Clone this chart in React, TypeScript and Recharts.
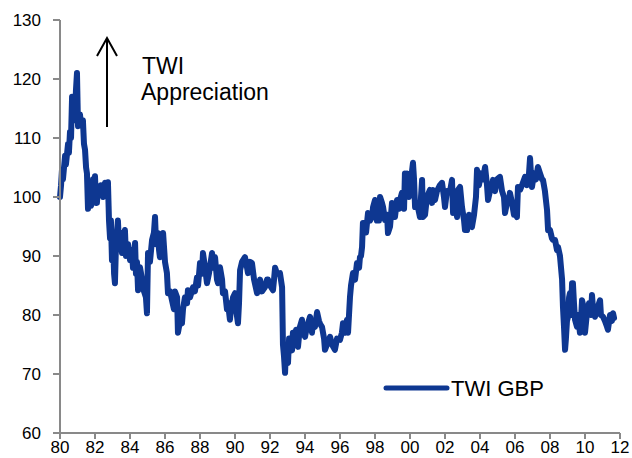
import { LineChart, Line, XAxis, YAxis, Legend } from 'recharts';

// [decimal year, index level]
const twi1980s: [number, number][] = [
    [1980.0, 100], [1980.06, 102], [1980.11, 104.5], [1980.17, 103], [1980.29, 107], [1980.34, 105.5],
    [1980.46, 109], [1980.51, 107.5], [1980.57, 111], [1980.63, 110], [1980.69, 117], [1980.74, 114],
    [1980.8, 116], [1980.86, 113], [1980.91, 118], [1980.97, 121], [1981.03, 112], [1981.14, 114],
    [1981.2, 112.5], [1981.31, 113], [1981.37, 109], [1981.43, 108], [1981.49, 105], [1981.54, 104],
    [1981.6, 98], [1981.66, 100], [1981.71, 102], [1981.77, 98.5], [1981.83, 99.5], [1981.89, 103],
    [1981.94, 101], [1982.0, 103.5], [1982.06, 99], [1982.11, 99], [1982.17, 101.5], [1982.29, 100.5],
    [1982.34, 102], [1982.46, 100], [1982.57, 102.4], [1982.69, 101], [1982.74, 102.5], [1982.8, 96],
    [1982.86, 93], [1982.91, 96], [1982.97, 89.3], [1983.03, 93], [1983.09, 87], [1983.14, 85.4],
    [1983.2, 92], [1983.31, 96], [1983.37, 92], [1983.43, 94], [1983.54, 90.5], [1983.6, 93],
    [1983.71, 94.4], [1983.77, 90], [1983.89, 92], [1984.0, 89.3], [1984.11, 91], [1984.17, 88],
    [1984.29, 92.2], [1984.34, 87], [1984.4, 89], [1984.46, 84.2], [1984.57, 88.1], [1984.69, 86],
    [1984.8, 84], [1984.91, 83], [1984.97, 80.3], [1985.03, 90.5], [1985.14, 89], [1985.26, 92.7],
    [1985.37, 94], [1985.43, 96.6], [1985.49, 92], [1985.6, 93.9], [1985.66, 91], [1985.71, 89.8],
    [1985.83, 91], [1985.89, 93.9], [1986.0, 89], [1986.11, 87.1], [1986.17, 83.7], [1986.29, 84],
    [1986.4, 82.5], [1986.51, 81], [1986.57, 84], [1986.69, 83], [1986.74, 77], [1986.86, 79],
    [1986.97, 78.6], [1987.03, 81], [1987.14, 83], [1987.26, 82], [1987.31, 84.2], [1987.43, 83],
    [1987.6, 84.7], [1987.71, 84], [1987.83, 86.4], [1987.89, 85], [1988.0, 88.8], [1988.11, 87],
    [1988.17, 90.5], [1988.29, 88], [1988.4, 85.4], [1988.51, 87], [1988.69, 90.5], [1988.74, 88],
    [1988.86, 89.8], [1988.97, 86], [1989.03, 85.4], [1989.14, 88.1], [1989.26, 86], [1989.31, 83.7],
    [1989.43, 84], [1989.54, 81], [1989.6, 82], [1989.71, 79.2], [1989.77, 81], [1989.89, 83],
];

const twi1990s: [number, number][] = [
    [1990.0, 83.7], [1990.06, 81], [1990.17, 78.6], [1990.23, 82], [1990.29, 87.6], [1990.4, 89],
    [1990.57, 89.8], [1990.69, 88], [1990.74, 87.1], [1990.86, 89], [1990.97, 88.8], [1991.09, 86],
    [1991.26, 83.7], [1991.37, 85], [1991.43, 86], [1991.54, 84], [1991.71, 84.7], [1991.83, 86],
    [1991.89, 86], [1992.0, 85], [1992.17, 84.2], [1992.23, 86], [1992.29, 88], [1992.4, 87],
    [1992.57, 87.1], [1992.69, 84.7], [1992.74, 75], [1992.8, 73], [1992.86, 70.2], [1992.91, 74],
    [1992.97, 72], [1993.03, 71.9], [1993.09, 76], [1993.14, 75.8], [1993.26, 74], [1993.31, 77],
    [1993.43, 76.3], [1993.49, 77.5], [1993.6, 74.6], [1993.71, 78], [1993.83, 79.2], [1993.89, 77],
    [1994.0, 76.3], [1994.11, 78], [1994.29, 79.7], [1994.4, 77], [1994.46, 79], [1994.57, 78],
    [1994.69, 80.5], [1994.8, 79], [1994.86, 78.5], [1994.97, 78], [1995.09, 76], [1995.14, 74.1],
    [1995.26, 75], [1995.43, 76.3], [1995.54, 75], [1995.71, 74.1], [1995.83, 76], [1996.0, 75.8],
    [1996.11, 77], [1996.17, 78.6], [1996.29, 77], [1996.4, 79.2], [1996.46, 77], [1996.57, 83],
    [1996.63, 85], [1996.74, 87.1], [1996.86, 86], [1996.97, 88.8], [1997.09, 88], [1997.14, 89.8],
    [1997.2, 90], [1997.26, 91.5], [1997.31, 95.6], [1997.43, 95.6], [1997.49, 94], [1997.6, 97.3],
    [1997.71, 96], [1997.83, 96.6], [1997.89, 98.3], [1998.0, 99.5], [1998.11, 96], [1998.17, 97.8],
    [1998.23, 96], [1998.29, 100], [1998.4, 99], [1998.46, 98.3], [1998.57, 96.1], [1998.69, 97],
    [1998.74, 93.9], [1998.86, 95], [1998.97, 99], [1999.09, 98], [1999.14, 96.6], [1999.26, 99.5],
    [1999.37, 98], [1999.43, 99.5], [1999.54, 100.7], [1999.6, 100.7], [1999.66, 98], [1999.71, 104],
    [1999.77, 102], [1999.83, 104], [1999.94, 100],
];

const twi2000s: [number, number][] = [
    [2000.06, 103], [2000.17, 105.8], [2000.23, 103], [2000.29, 98.3], [2000.4, 99], [2000.57, 96.6],
    [2000.63, 100], [2000.69, 102.9], [2000.74, 96.6], [2000.86, 97], [2000.97, 100], [2001.14, 101.2],
    [2001.26, 99], [2001.31, 101.2], [2001.43, 99.5], [2001.54, 101], [2001.71, 102], [2001.83, 102.4],
    [2001.94, 100], [2002.0, 98.3], [2002.11, 101], [2002.29, 101], [2002.4, 102.9], [2002.46, 97.3],
    [2002.57, 99], [2002.69, 96.6], [2002.74, 101.2], [2002.86, 101.7], [2002.97, 98.3], [2003.09, 96],
    [2003.14, 94.4], [2003.26, 94.4], [2003.37, 97], [2003.49, 95], [2003.54, 94.9], [2003.66, 97],
    [2003.77, 100], [2003.83, 104.6], [2003.94, 102], [2004.06, 104], [2004.17, 103], [2004.29, 105.1],
    [2004.4, 102], [2004.46, 99.5], [2004.57, 101], [2004.69, 102], [2004.74, 102.9], [2004.86, 101],
    [2004.97, 103], [2005.14, 103.4], [2005.26, 101], [2005.37, 100], [2005.43, 97.3], [2005.54, 99],
    [2005.66, 99], [2005.71, 100.7], [2005.83, 99], [2005.94, 97], [2006.0, 97.3], [2006.11, 96.6],
    [2006.17, 101.7], [2006.29, 101.2], [2006.4, 102], [2006.57, 103.4], [2006.69, 102], [2006.8, 104],
    [2006.86, 106.6], [2006.91, 104], [2006.97, 101.7], [2007.09, 104], [2007.2, 103], [2007.31, 105.1],
    [2007.43, 104], [2007.54, 103], [2007.6, 102.9], [2007.71, 101], [2007.83, 97.8], [2007.89, 94.4],
    [2008.0, 94.4], [2008.11, 93], [2008.17, 92.7], [2008.29, 92.7], [2008.4, 91], [2008.46, 91.5],
    [2008.57, 90], [2008.63, 88], [2008.69, 86], [2008.74, 81.4], [2008.8, 78], [2008.86, 74.1],
    [2008.91, 76], [2008.97, 79], [2009.03, 79.7], [2009.09, 83], [2009.14, 83.7], [2009.2, 80],
    [2009.26, 85.4], [2009.31, 85.4], [2009.37, 82], [2009.43, 79.2], [2009.54, 78], [2009.6, 80],
    [2009.71, 77], [2009.77, 79], [2009.83, 82.5], [2009.94, 81], [2010.0, 77], [2010.11, 80.3],
    [2010.23, 82], [2010.34, 80], [2010.4, 83.4], [2010.46, 81], [2010.57, 79.7], [2010.69, 81],
    [2010.86, 82.5], [2010.91, 80], [2011.03, 79.7], [2011.14, 79], [2011.26, 78], [2011.31, 77.5],
    [2011.43, 80], [2011.54, 79], [2011.6, 80.3], [2011.66, 79.5],
];

const yearTicks = [1980, 1982, 1984, 1986, 1988, 1990, 1992, 1994, 1996, 1998, 2000, 2002, 2004, 2006, 2008, 2010, 2012];
const valueTicks = [60, 70, 80, 90, 100, 110, 120, 130];

const LINE_COLOR = '#0E3791';
const AXIS_COLOR = '#898989';
const FONT = '"Liberation Sans", Arial, sans-serif';

const chartData = [...twi1980s, ...twi1990s, ...twi2000s].map(([t, v]) => ({ t, twi: v }));

function LegendBox() {
    return (
        <svg width={180} height={26} style={{ display: 'block' }}>
            <line x1={3} y1={12} x2={64} y2={12} stroke={LINE_COLOR} strokeWidth={5} strokeLinecap="round" />
            <text x={68} y={20} fontSize={22} fontFamily={FONT} fill="#000">TWI GBP</text>
        </svg>
    );
}

export default function App() {
    return (
        <div style={{ position: 'absolute', left: 0, top: 0, width: 632, height: 458, background: '#fff', fontFamily: FONT }}>
            <LineChart width={632} height={458} data={chartData} margin={{ top: 20, right: 12, left: 0, bottom: 0 }}>
                <XAxis
                    dataKey="t"
                    type="number"
                    domain={[1980, 2012]}
                    ticks={yearTicks}
                    interval={0}
                    height={25}
                    tickFormatter={(v: number) => String(v % 100).padStart(2, '0')}
                    axisLine={{ stroke: AXIS_COLOR, strokeWidth: 2 }}
                    tickLine={{ stroke: AXIS_COLOR, strokeWidth: 2 }}
                    tickSize={6}
                    tickMargin={2}
                    tick={{ fontSize: 17, fill: '#000', fontFamily: FONT }}
                />
                <YAxis
                    type="number"
                    domain={[60, 130]}
                    ticks={valueTicks}
                    interval={0}
                    width={60}
                    axisLine={{ stroke: AXIS_COLOR, strokeWidth: 2 }}
                    tickLine={{ stroke: AXIS_COLOR, strokeWidth: 2 }}
                    tickSize={7}
                    tickMargin={12}
                    tick={{ fontSize: 17, fill: '#000', fontFamily: FONT }}
                />
                <Legend
                    layout="horizontal"
                    verticalAlign="middle"
                    align="center"
                    wrapperStyle={{ left: 383, top: 376, width: 180 }}
                    content={() => <LegendBox />}
                />
                <Line
                    type="linear"
                    dataKey="twi"
                    name="TWI GBP"
                    stroke={LINE_COLOR}
                    strokeWidth={6}
                    strokeLinejoin="round"
                    strokeLinecap="round"
                    dot={false}
                    activeDot={false}
                    isAnimationActive={false}
                />
            </LineChart>
            {/* appreciation arrow and note */}
            <svg width={632} height={458} style={{ position: 'absolute', left: 0, top: 0, pointerEvents: 'none' }}>
                <line x1={107} y1={127} x2={107} y2={38} stroke="#000" strokeWidth={2} />
                <polyline points="97,56 107,38 117,56" fill="none" stroke="#000" strokeWidth={2} />
                <text x={142} y={74} fontSize={23} fontFamily={FONT} fill="#000">TWI</text>
                <text x={141} y={100} fontSize={23} fontFamily={FONT} fill="#000">Appreciation</text>
            </svg>
        </div>
    );
}
